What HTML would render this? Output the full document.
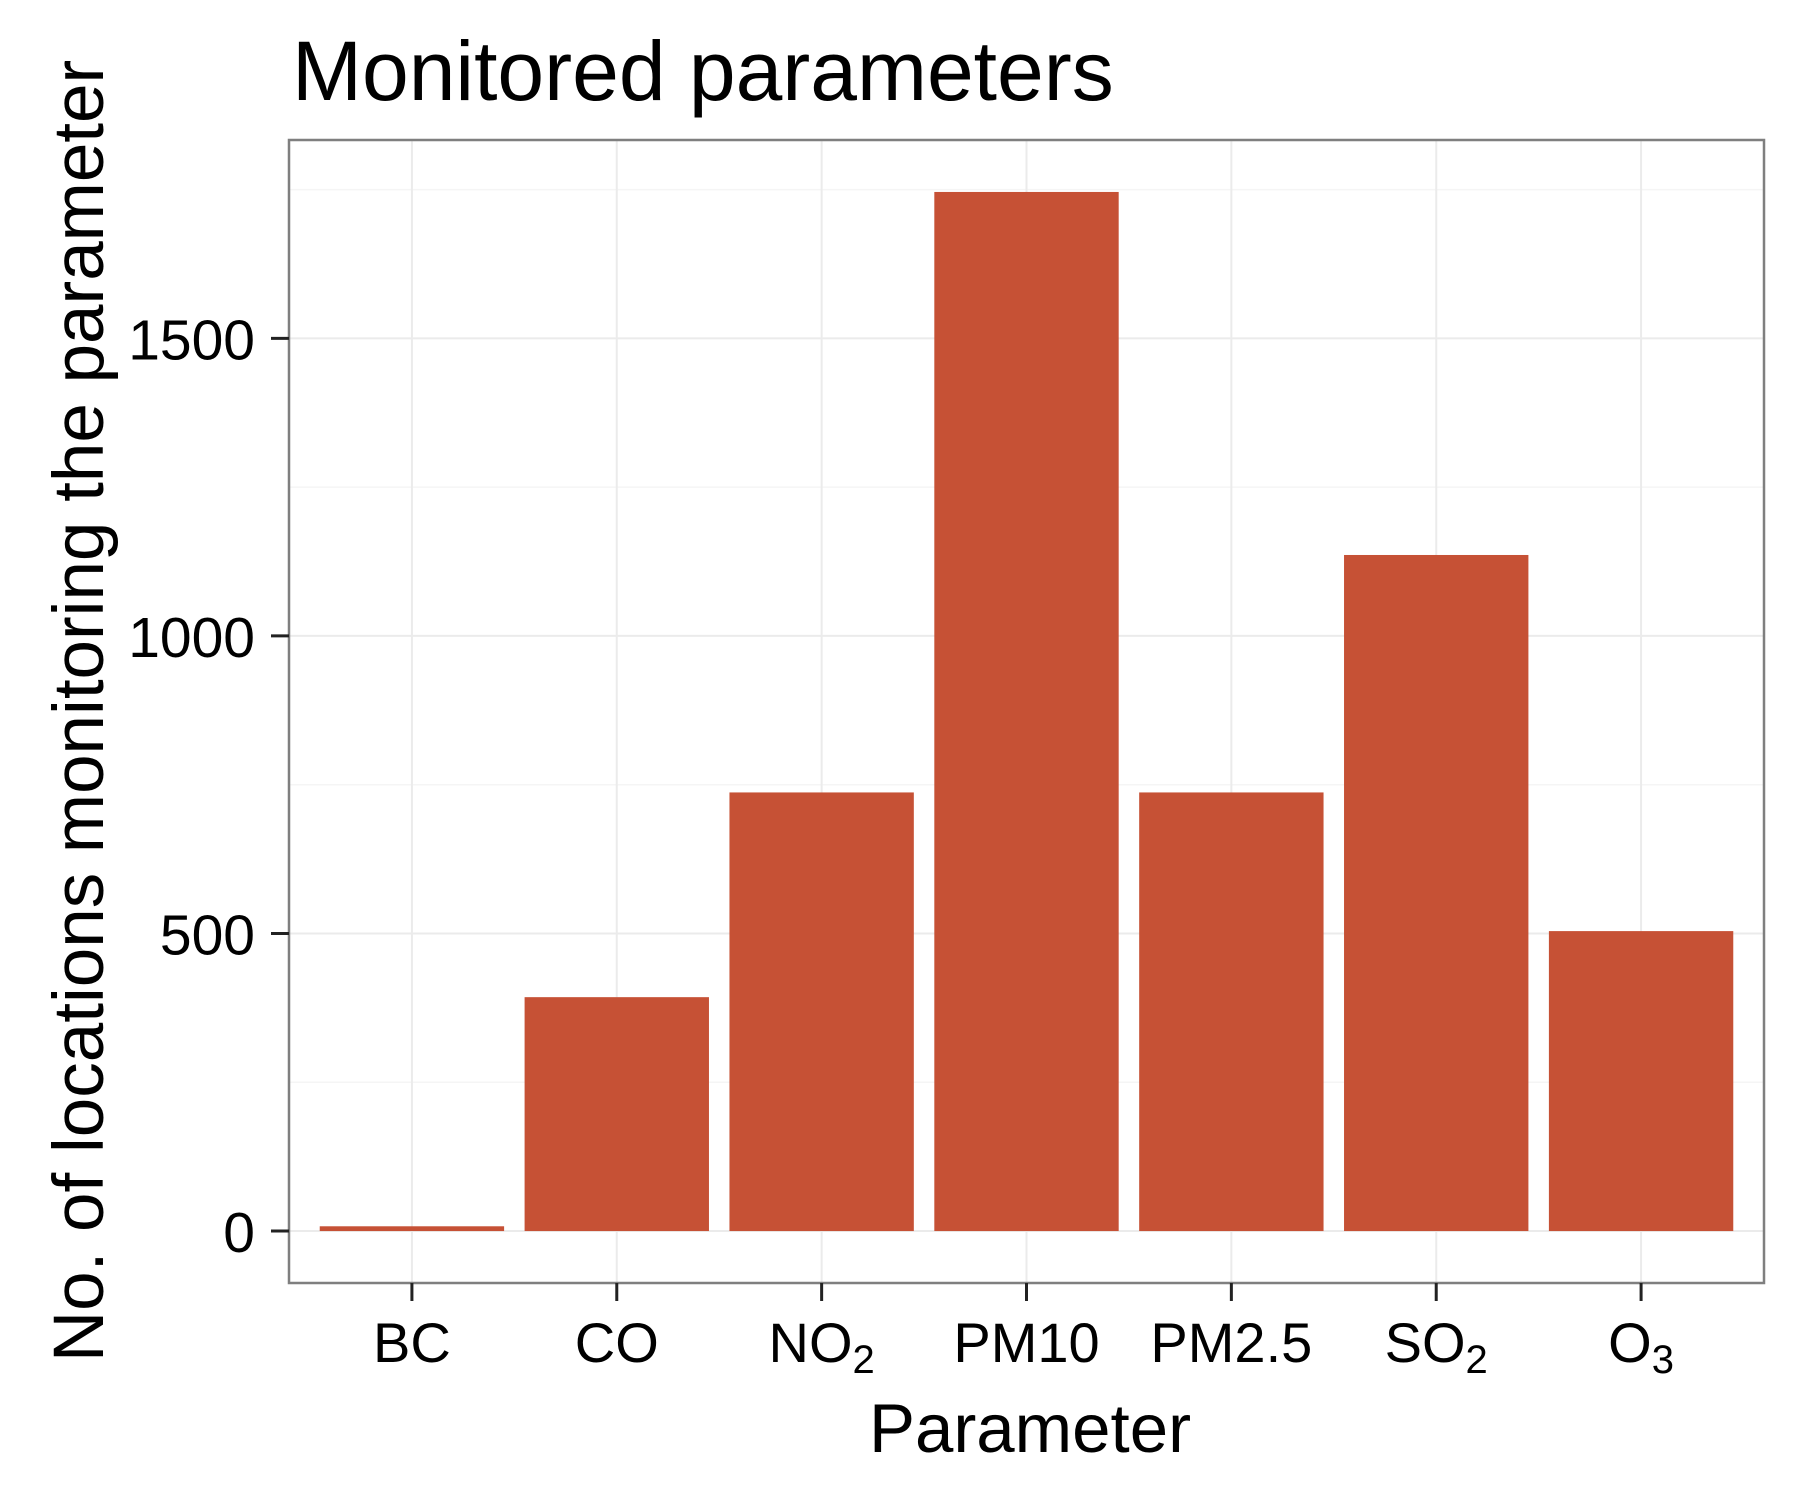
<!DOCTYPE html>
<html><head><meta charset="utf-8"><style>
html,body{margin:0;padding:0;background:#fff;}
svg text{font-family:"Liberation Sans",Arial,sans-serif;fill:#000;}
</style></head><body>
<svg id="chart" width="1800" height="1500" xmlns="http://www.w3.org/2000/svg">
<rect width="1800" height="1500" fill="#fff"/>
<text x="292" y="100" font-size="84">Monitored parameters</text>
<g id="grid"></g>
<g id="bars"></g>
<rect x="289" y="140" width="1475" height="1143" fill="none" stroke="#7f7f7f" stroke-width="2.5"/>
<g id="axes"></g>
<text x="1030" y="1452" font-size="69" text-anchor="middle">Parameter</text>
<text transform="translate(103,711) rotate(-90)" font-size="71" text-anchor="middle">No. of locations monitoring the parameter</text>
</svg>
<script>
const categories = ["BC","CO","NO2","PM10","PM2.5","SO2","O3"];
const labelMain = ["BC","CO","NO","PM10","PM2.5","SO","O"];
const labelSub = ["","","2","","","2","3"];
const values = [8, 393, 737, 1746, 737, 1136, 504];
const yTicks = [0, 500, 1000, 1500];
const yMinor = [250, 750, 1250, 1750];

const NS = "http://www.w3.org/2000/svg";
const L = 289, R = 1764, T = 140, B = 1283;
const maxV = Math.max(...values);
const yMin = -0.05 * maxV, yMax = maxV * 1.05;
function y(v){ return B - (v - yMin) / (yMax - yMin) * (B - T); }
const step = (R - L) / (categories.length + 0.2);
function x(i){ return L + (i + 0.6) * step; }
function mk(tag, attrs, parent){ const e = document.createElementNS(NS, tag); for (const k in attrs) e.setAttribute(k, attrs[k]); parent.appendChild(e); return e; }

const grid = document.getElementById('grid'), bars = document.getElementById('bars'), axes = document.getElementById('axes');
mk('rect', {x:L, y:T, width:R-L, height:B-T, fill:'#fff'}, grid);
yMinor.forEach(v => { if (y(v) > T) { const l = mk('line', {x1:L, x2:R, y1:y(v), y2:y(v), stroke:'#f5f5f5', 'stroke-width':1.5}, grid);
  
   } });
yTicks.forEach(v => { const l = mk('line', {x1:L, x2:R, y1:y(v), y2:y(v), stroke:'#ebebeb', 'stroke-width':2}, grid);
  
   });
categories.forEach((c, i) => { const l = mk('line', {x1:x(i), x2:x(i), y1:T, y2:B, stroke:'#ebebeb', 'stroke-width':2}, grid);
  
   });

const bw = step * 0.9;
values.forEach((v, i) => {
  const r = mk('rect', {x:x(i)-bw/2, y:y(v), width:bw, height:y(0)-y(v), fill:'#c65135'}, bars);
  
  
});

yTicks.forEach(v => {
  const t = mk('line', {x1:271, x2:289, y1:y(v), y2:y(v), stroke:'#222', 'stroke-width':3}, axes);
  
  
  const tx = mk('text', {x:255, y:y(v)+21, 'font-size':57, 'text-anchor':'end'}, axes);
  tx.textContent = String(v);
  
  
});
categories.forEach((c, i) => {
  const t = mk('line', {x1:x(i), x2:x(i), y1:1283, y2:1301, stroke:'#222', 'stroke-width':3}, axes);
  
  
  const tx = mk('text', {x:x(i), y:1362, 'font-size':56, 'text-anchor':'middle'}, axes);
  
  
  const m = document.createElementNS(NS, 'tspan'); m.textContent = labelMain[i]; tx.appendChild(m);
  if (labelSub[i]) { const s = document.createElementNS(NS, 'tspan'); s.setAttribute('font-size', '40'); s.setAttribute('dy', '11'); s.textContent = labelSub[i]; tx.appendChild(s); }
});
</script>
</body></html>
